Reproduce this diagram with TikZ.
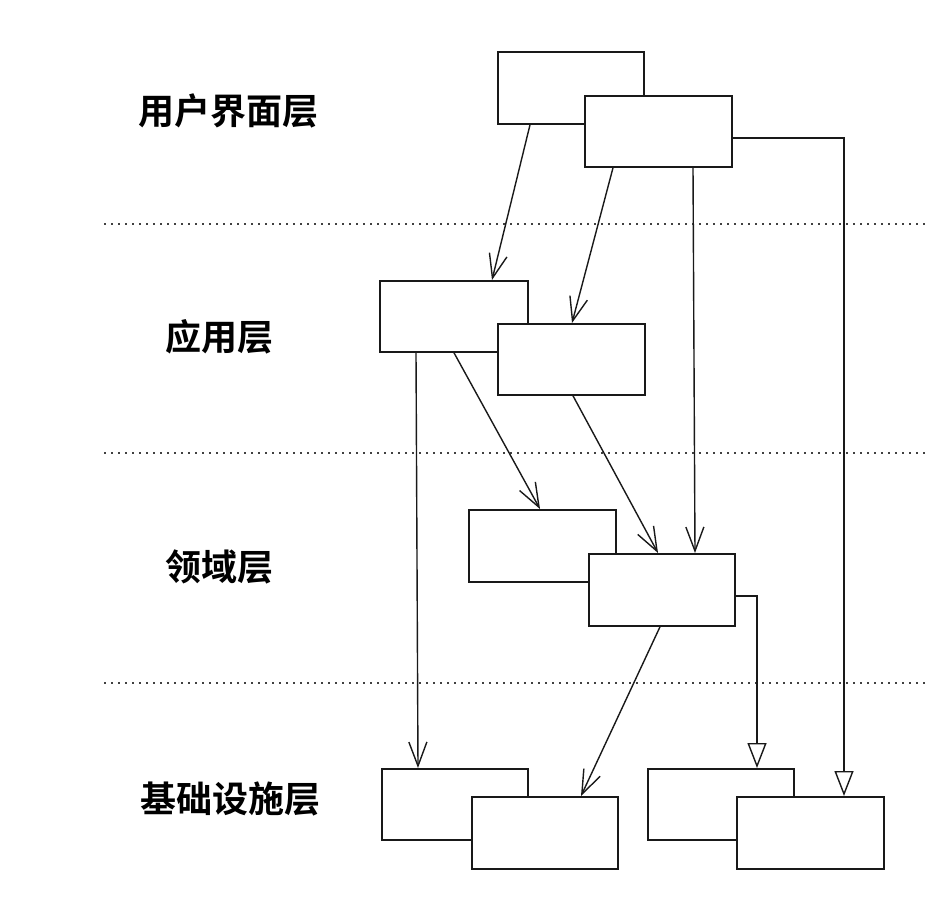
\documentclass[tikz,border=0pt]{standalone}
\usepackage{fontspec}
\newfontfamily\cjk{Noto Sans CJK SC Bold}
\usetikzlibrary{arrows.meta}
\begin{document}
\begin{tikzpicture}[x=1pt,y=-1pt,
  box/.style={draw=black!90,line width=1.8pt,fill=white,anchor=north west,inner sep=0pt,minimum width=#1},
  box/.default=146pt,
  layer/.style={font=\cjk\fontsize{36}{36}\selectfont,inner sep=0pt},
  sep/.style={draw=black!75,line width=1.6pt,dash pattern=on 1.6pt off 5.4pt},
  dep/.style={draw=black!90,line width=1.4pt,-{Straight Barb[length=24pt,width=18pt,line width=1.4pt]}},
  inh/.style={draw=black!90,line width=1.4pt,-{Triangle[open,length=25pt,width=19pt,line width=1.4pt,fill=white]}}]
\useasboundingbox (0,0) rectangle (926,916);
% layer separators
\coordinate (s1a) at (104,224); \coordinate (s1b) at (926,224);
\coordinate (s2a) at (104,453); \coordinate (s2b) at (926,453);
\coordinate (s3a) at (104,683); \coordinate (s3b) at (926,683);
\draw[sep] (s1a) -- (s1b);
\draw[sep] (s2a) -- (s2b);
\draw[sep] (s3a) -- (s3b);
% layer labels
\node[layer] (l1) at (228,111) {用户界面层};
\node[layer] (l2) at (219,337) {应用层};
\node[layer] (l3) at (219,567) {领域层};
\node[layer] (l4) at (230,799) {基础设施层};
% boxes
\node[box=146pt,minimum height=72pt] (ui1) at (497,51) {};
\node[box=147pt,minimum height=71pt] (ui2) at (584,95) {};
\node[box=148pt,minimum height=71pt] (app1) at (379,280) {};
\node[box=147pt,minimum height=71pt] (app2) at (497,323) {};
\node[box=147pt,minimum height=72pt] (dom1) at (468,509) {};
\node[box=146pt,minimum height=72pt] (dom2) at (588,553) {};
\node[box=146pt,minimum height=71pt] (inf1) at (381,768) {};
\node[box=146pt,minimum height=72pt] (inf2) at (471,796) {};
\node[box=146pt,minimum height=71pt] (inf3) at (647,768) {};
\node[box=147pt,minimum height=72pt] (inf4) at (736,796) {};
% connectors
\draw[dep] ([xshift=33pt]ui1.south west) -- ([xshift=113pt]app1.north west);
\draw[dep] ([xshift=29pt]ui2.south west) -- ([xshift=75pt]app2.north west);
\draw[dep] ([xshift=109pt]ui2.south west) -- ([xshift=107pt]dom2.north west);
\coordinate (c1) at (844,138);
\draw[inh] (ui2.east |- c1) -- (c1) -- (c1 |- inf4.north);
\draw[dep] ([xshift=37pt]app1.south west) -- ([xshift=37pt]inf1.north west);
\draw[dep] ([xshift=75pt]app1.south west) -- ([xshift=72pt]dom1.north west);
\draw[dep] ([xshift=76pt]app2.south west) -- ([xshift=70pt]dom2.north west);
\coordinate (c2) at (757,596);
\draw[inh] (dom2.east |- c2) -- (c2) -- (c2 |- inf3.north);
\draw[dep] ([xshift=72pt]dom2.south west) -- ([xshift=110pt]inf2.north west);
\end{tikzpicture}
\end{document}
